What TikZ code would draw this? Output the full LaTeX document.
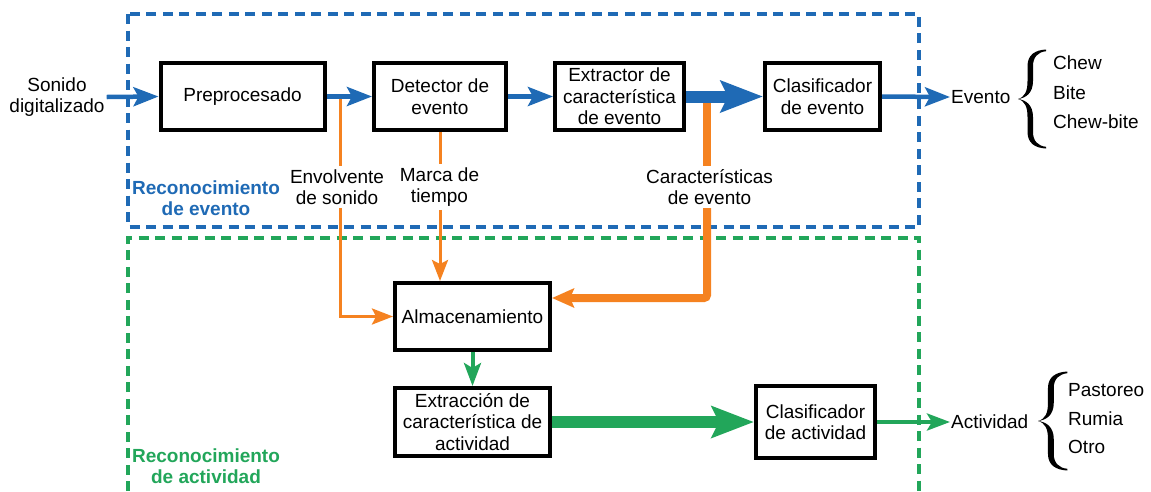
\documentclass[tikz,border=0pt]{standalone}
\usepackage{fontspec}
\setmainfont{Liberation Sans}
\usetikzlibrary{arrows.meta,calc}
\definecolor{cblue}{RGB}{31,106,181}
\definecolor{corange}{RGB}{245,130,32}
\definecolor{cgreen}{RGB}{34,166,90}
\tikzset{
  pics/lbrace/.style={code={
    \fill[black] (0,0) .. controls (7,-2) and (9.5,-8) .. (9.5,-18) -- (9.5,-33) .. controls (9.5,-44) and (17,-49) .. (28,-49.5) -- (28,-47.8) .. controls (20,-47) and (15,-42) .. (15,-33) -- (15,-18) .. controls (15,-6) and (8,-1) .. (0,0) -- cycle;
    \fill[black] (0,0) .. controls (7,2) and (9.5,8) .. (9.5,18) -- (9.5,33) .. controls (9.5,44) and (17,49) .. (28,49.5) -- (28,47.8) .. controls (20,47) and (15,42) .. (15,33) -- (15,18) .. controls (15,6) and (8,1) .. (0,0) -- cycle;
  }}
}
\begin{document}
\begin{tikzpicture}[x=1pt,y=-1pt,
  font=\fontsize{19}{21.5}\selectfont,
  blk/.style={draw=black,line width=4pt,align=center,inner sep=0pt,fill=white},
  lbl/.style={align=center,inner sep=3pt},
  grp/.style={line width=4pt,dash pattern=on 10pt off 6.5pt},
  bl/.style={cblue,line width=4.5pt,-{Stealth[length=25pt,width=19pt,inset=5pt]}},
  blt/.style={cblue,line width=12pt,-{Stealth[length=42pt,width=31pt,inset=7pt]}},
  ol/.style={corange,line width=3pt},
  ola/.style={corange,line width=3pt,-{Stealth[length=21pt,width=16pt,inset=4pt]}},
  olt/.style={corange,line width=8pt},
  olta/.style={corange,line width=8pt,-{Stealth[length=22pt,width=19pt,inset=4pt]}},
  gr/.style={cgreen,line width=4pt,-{Stealth[length=23pt,width=17pt,inset=5pt]}},
  grt/.style={cgreen,line width=12pt,-{Stealth[length=42pt,width=31pt,inset=7pt]}},
  item/.style={anchor=west,inner sep=0pt},
]
\useasboundingbox (0,0) rectangle (1151,491);

% group frames
\draw[grp,cblue] (128,14) rectangle (919,227);
\draw[grp,cgreen] (127.5,491) -- (127.5,238) -- (919,238) -- (919,491);

% blocks
\node[blk,minimum width=164pt,minimum height=67pt] (pre) at (242.5,96.5) {Preprocesado};
\node[blk,minimum width=132pt,minimum height=67pt] (det) at (440,96.5) {Detector de\\evento};
\node[blk,minimum width=129pt,minimum height=67pt] (ext) at (619.5,96.5) {Extractor de\\característica\\de evento};
\node[blk,minimum width=115pt,minimum height=67pt] (cle) at (822.5,96.5) {Clasificador\\de evento};
\node[blk,minimum width=155pt,minimum height=67pt] (alm) at (472.5,316.5) {Almacenamiento};
\node[blk,minimum width=155pt,minimum height=68pt] (exa) at (472.5,422) {Extracción de\\característica de\\actividad};
\node[blk,minimum width=119pt,minimum height=72pt] (cla) at (815.5,422) {Clasificador\\de actividad};

% texts
\node[align=center,inner sep=2pt] (son) at (57,97) {Sonido\\digitalizado};
\node[lbl] (lab1) at (337,187) {Envolvente\\de sonido};
\node[lbl] (lab2) at (439.5,187) {Marca de\\tiempo};
\node[lbl] (lab3) at (709.5,187) {Características\\de evento};
\node[align=center,text=cblue,font=\fontsize{19}{21.5}\selectfont\bfseries] (rev) at (206,198) {Reconocimiento\\de evento};
\node[align=center,text=cgreen,font=\fontsize{19}{21.5}\selectfont\bfseries] (rac) at (206,466) {Reconocimiento\\de actividad};
\node[anchor=west,inner sep=1pt] (evt) at (950,97) {Evento};
\node[anchor=west,inner sep=1pt] (act) at (950,422) {Actividad};

% braces and items
\pic at (1018,99) {lbrace};
\pic[xscale=1.05] at (1038,421) {lbrace};
\node[item] (i1) at (1053,63) {Chew};
\node[item] (i2) at (1053,93) {Bite};
\node[item] (i3) at (1053,122) {Chew-bite};
\node[item] (j1) at (1068,390) {Pastoreo};
\node[item] (j2) at (1068,419) {Rumia};
\node[item] (j3) at (1068,447) {Otro};

% orange connectors
\coordinate (c1) at ([xshift=13.5pt]pre.east);
\coordinate (c3) at ([xshift=21pt]ext.east);
\coordinate (c4) at (707,298);
\draw[ol] (c1) -- (lab1.north -| c1);
\draw[ola] (lab1.south -| c1) |- (alm.west);
\draw[ol] (det.south) -- (lab2.north -| det.south);
\draw[ola] (lab2.south -| det.south) -- (det.south |- alm.north);
\draw[olt] (c3) -- (lab3.north -| c3);
\draw[olta,rounded corners=3pt] (lab3.south -| c3) -- (c4) -- (alm.east |- c4);

% blue connectors
\draw[bl] (son.east) -- (pre.west);
\draw[bl] (pre.east) -- (det.west);
\draw[bl] (det.east) -- (ext.west);
\draw[blt] (ext.east) -- (cle.west);
\draw[bl] (cle.east) -- (evt.west);

% green connectors
\draw[gr] (alm.south) -- (exa.north);
\draw[grt] (exa.east) -- (cla.west);
\draw[gr] (cla.east) -- (act.west);
\end{tikzpicture}
\end{document}
